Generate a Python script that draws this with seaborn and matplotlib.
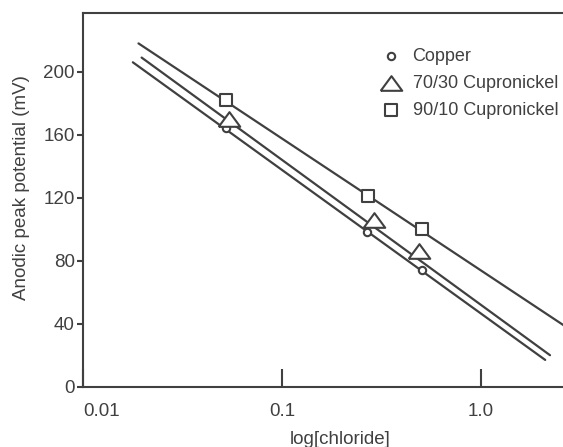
import matplotlib
matplotlib.use("Agg")

import matplotlib.pyplot as plt
from matplotlib.ticker import NullLocator
import seaborn as sns


series = ["Copper", "70/30 Cupronickel", "90/10 Cupronickel"]
chloride = {
    "Copper": [0.052, 0.266, 0.505],
    "70/30 Cupronickel": [0.054, 0.289, 0.49],
    "90/10 Cupronickel": [0.052, 0.27, 0.504],
}
potential = {
    "Copper": [164, 98, 74],
    "70/30 Cupronickel": [170, 106, 86],
    "90/10 Cupronickel": [182, 121, 100],
}

# fitted lines: end points (x, y)
fit_x = {
    "Copper": [0.0178, 2.10],
    "70/30 Cupronickel": [0.0197, 2.22],
    "90/10 Cupronickel": [0.0190, 2.60],
}
fit_y = {
    "Copper": [206, 17],
    "70/30 Cupronickel": [209, 20],
    "90/10 Cupronickel": [218, 39],
}

xticks = [0.01, 0.1, 1.0]
xtick_labels = ["0.01", "0.1", "1.0"]
yticks = [0, 40, 80, 120, 160, 200]

# flat, wide triangle like the original drawing
wide_triangle = [(-1.0, -0.68), (1.0, -0.68), (0.0, 0.68), (-1.0, -0.68)]
markers = {"Copper": "o", "70/30 Cupronickel": wide_triangle, "90/10 Cupronickel": "s"}
marker_sizes = {"Copper": 28, "70/30 Cupronickel": 240, "90/10 Cupronickel": 75}

ink = "#404040"
fs = 13.5

sns.set_style("white")
plt.rcParams["font.family"] = ["Liberation Sans", "DejaVu Sans"]
plt.rcParams["font.size"] = fs

fig = plt.figure(figsize=(5.63, 4.47), dpi=100)
ax = fig.add_axes([83 / 563, 60.3 / 447, 480 / 563, 373.7 / 447])

for name in series:
    sns.lineplot(x=fit_x[name], y=fit_y[name], color=ink, linewidth=1.6,
                 legend=False, ax=ax, zorder=2)

for name in series:
    sns.scatterplot(x=chloride[name], y=potential[name], marker=markers[name],
                    s=marker_sizes[name], facecolor="white", edgecolor=ink,
                    linewidth=1.5, label=name, ax=ax, zorder=3)

ax.set_xscale("log")
ax.set_xlim(0.01, 2.58)
ax.set_ylim(0, 237.3)
ax.set_xticks(xticks)
ax.set_xticklabels(xtick_labels)
ax.xaxis.set_minor_locator(NullLocator())
ax.set_yticks(yticks)
ax.get_xticklabels()[0].set_ha("left")

ax.tick_params(axis="x", direction="in", length=13, width=1.5, pad=12,
               colors=ink, labelsize=fs, bottom=True)
ax.tick_params(axis="y", direction="out", length=4, width=1.5, pad=2,
               colors=ink, labelsize=fs, left=True)

for side in ["left", "bottom", "top"]:
    ax.spines[side].set_color(ink)
    ax.spines[side].set_linewidth(1.5)
ax.spines["right"].set_visible(False)

ax.set_xlabel("log[chloride]", color=ink, fontsize=fs)
ax.set_ylabel("Anodic peak potential (mV)", color=ink, fontsize=fs)
ax.xaxis.set_label_coords(0.535, -0.118)
ax.yaxis.set_label_coords(-0.11, 0.533)

ax.legend(loc="upper left", bbox_to_anchor=(0.60, 0.93), frameon=False,
          fontsize=13, handlelength=1.2, handletextpad=0.6, labelspacing=0.55,
          borderpad=0, labelcolor=ink)

fig.savefig("out.png", dpi=100)
plt.close(fig)
